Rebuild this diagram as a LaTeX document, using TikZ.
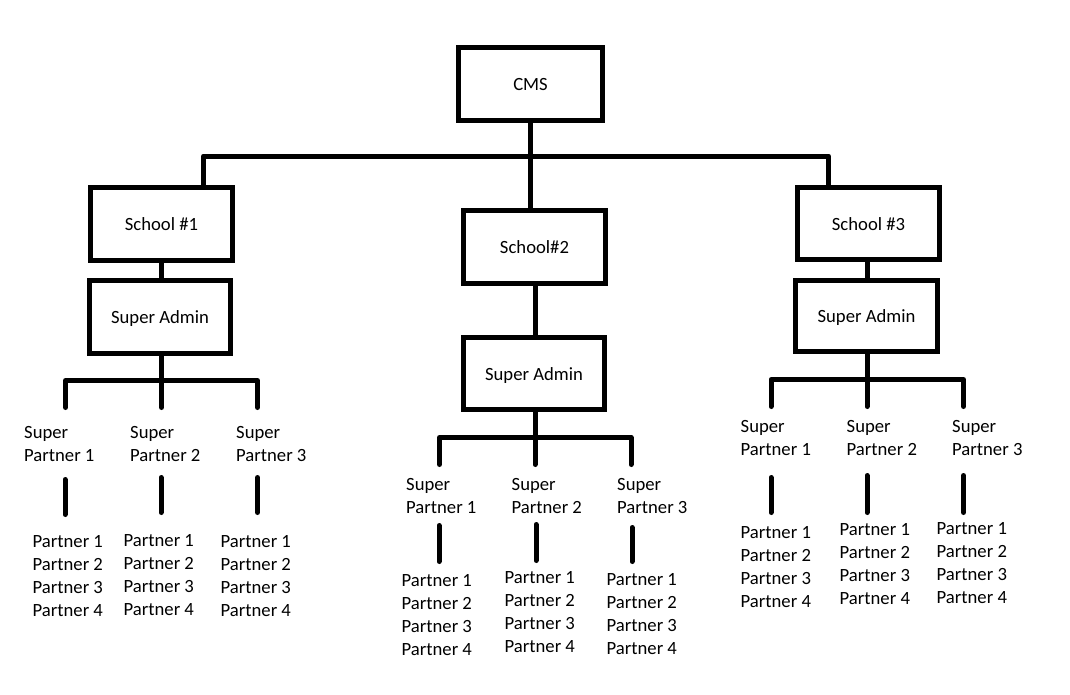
\documentclass[tikz,border=0pt]{standalone}
\usepackage{fontspec}
\setmainfont{Carlito}
\newcommand\diafont{\fontsize{18.67pt}{23pt}\selectfont}
\begin{document}
\begin{tikzpicture}[x=1pt,y=-1pt,
  box/.style={draw, line width=5pt, minimum width=142pt, minimum height=73pt,
    inner sep=0pt, text height=13pt, text depth=0pt, font=\diafont},
  link/.style={line width=5pt, line join=round, line cap=round},
  txt/.style={inner sep=0pt, anchor=base west, font=\diafont}]
\fill[white] (0,0) rectangle (1070,694);
\useasboundingbox (0,0) rectangle (1070,694);

% boxes
\node[box, minimum width=144pt] (cms) at (530.5,84) {CMS};
\node[box] (s1) at (161.5,224) {School \#1};
\node[box, minimum width=141pt] (sa1) at (160,317) {Super Admin};
\node[box] (s2) at (534.5,247) {School\#2};
\node[box, minimum width=141pt, minimum height=72pt] (sa2) at (534,373.5) {Super Admin};
\node[box, minimum height=72pt] (s3) at (868.5,223.5) {School \#3};
\node[box, minimum height=71pt] (sa3) at (866.5,316) {Super Admin};

% top tree
\coordinate (top) at (530,156);
\coordinate (tl) at (203.5,156);
\coordinate (tr) at (828.5,156);
\draw[link] (top |- cms.south) -- (top);
\draw[link] (tl |- s1.north) -- (tl) -- (tr) -- (tr |- s3.north);
\draw[link] (top) -- (top |- s2.north);

% left branch
\coordinate (l0) at (161.5,380.5);
\coordinate (l1) at (65.5,380.5);
\coordinate (l3) at (257.5,380.5);
\coordinate (l1e) at (65.5,407.5);
\coordinate (l2e) at (161.5,407.5);
\coordinate (l3e) at (257.5,407.5);
\draw[link] (l0 |- s1.south) -- (l0 |- sa1.north);
\draw[link] (l0 |- sa1.south) -- (l0);
\draw[link] (l1e) -- (l1) -- (l3) -- (l3e);
\draw[link] (l0) -- (l2e);

% middle branch
\coordinate (m0) at (535,437.5);
\coordinate (m1) at (439.5,437.5);
\coordinate (m3) at (631,437.5);
\coordinate (m1e) at (439.5,464.5);
\coordinate (m2e) at (535,464.5);
\coordinate (m3e) at (631,464.5);
\draw[link] (m0 |- s2.south) -- (m0 |- sa2.north);
\draw[link] (m0 |- sa2.south) -- (m0);
\draw[link] (m1e) -- (m1) -- (m3) -- (m3e);
\draw[link] (m0) -- (m2e);

% right branch
\coordinate (r0) at (867,379.5);
\coordinate (r1) at (771,379.5);
\coordinate (r3) at (963.5,379.5);
\coordinate (r1e) at (771,406.5);
\coordinate (r2e) at (867,406.5);
\coordinate (r3e) at (963.5,406.5);
\draw[link] (r0 |- s3.south) -- (r0 |- sa3.north);
\draw[link] (r0 |- sa3.south) -- (r0);
\draw[link] (r1e) -- (r1) -- (r3) -- (r3e);
\draw[link] (r0) -- (r2e);

% short bars
\foreach \n/\x/\a/\b in {lb1/65/477/517, lb2/161/475/515, lb3/257.5/475/515,
    mb1/439/523/564, mb2/536/522/563, mb3/632/525/564,
    rb1/771/475/515, rb2/867/473/515, rb3/963.5/473/515} {
  \coordinate (\n t) at (\x,{\a+2.5});
  \coordinate (\n b) at (\x,{\b-2.5});
  \draw[link] (\n t) -- (\n b);
}

% super partner labels
\foreach \n/\x/\y/\k in {l1/25/438/1, l2/131/438/2, l3/237/438/3,
    m1/407/490/1, m2/512.5/490/2, m3/618/490/3,
    r1/741.5/432/1, r2/847.5/432/2, r3/953/432/3} {
  \node[txt] (sp\n a) at ({\x-1},\y) {Super};
  \node[txt] (sp\n b) at ({\x-1},{\y+23}) {Partner \k};
}

% partner lists
\foreach \n/\x/\y in {l1/34/547, l2/125/546, l3/222/547,
    m1/403/586, m2/506/583, m3/608/585,
    r1/742/538, r2/841/535, r3/938/534} {
  \foreach \i in {1,...,4} {
    \node[txt] (p\n\i) at ({\x-1.5},{\y+23*(\i-1)}) {Partner \i};
  }
}
\end{tikzpicture}
\end{document}
